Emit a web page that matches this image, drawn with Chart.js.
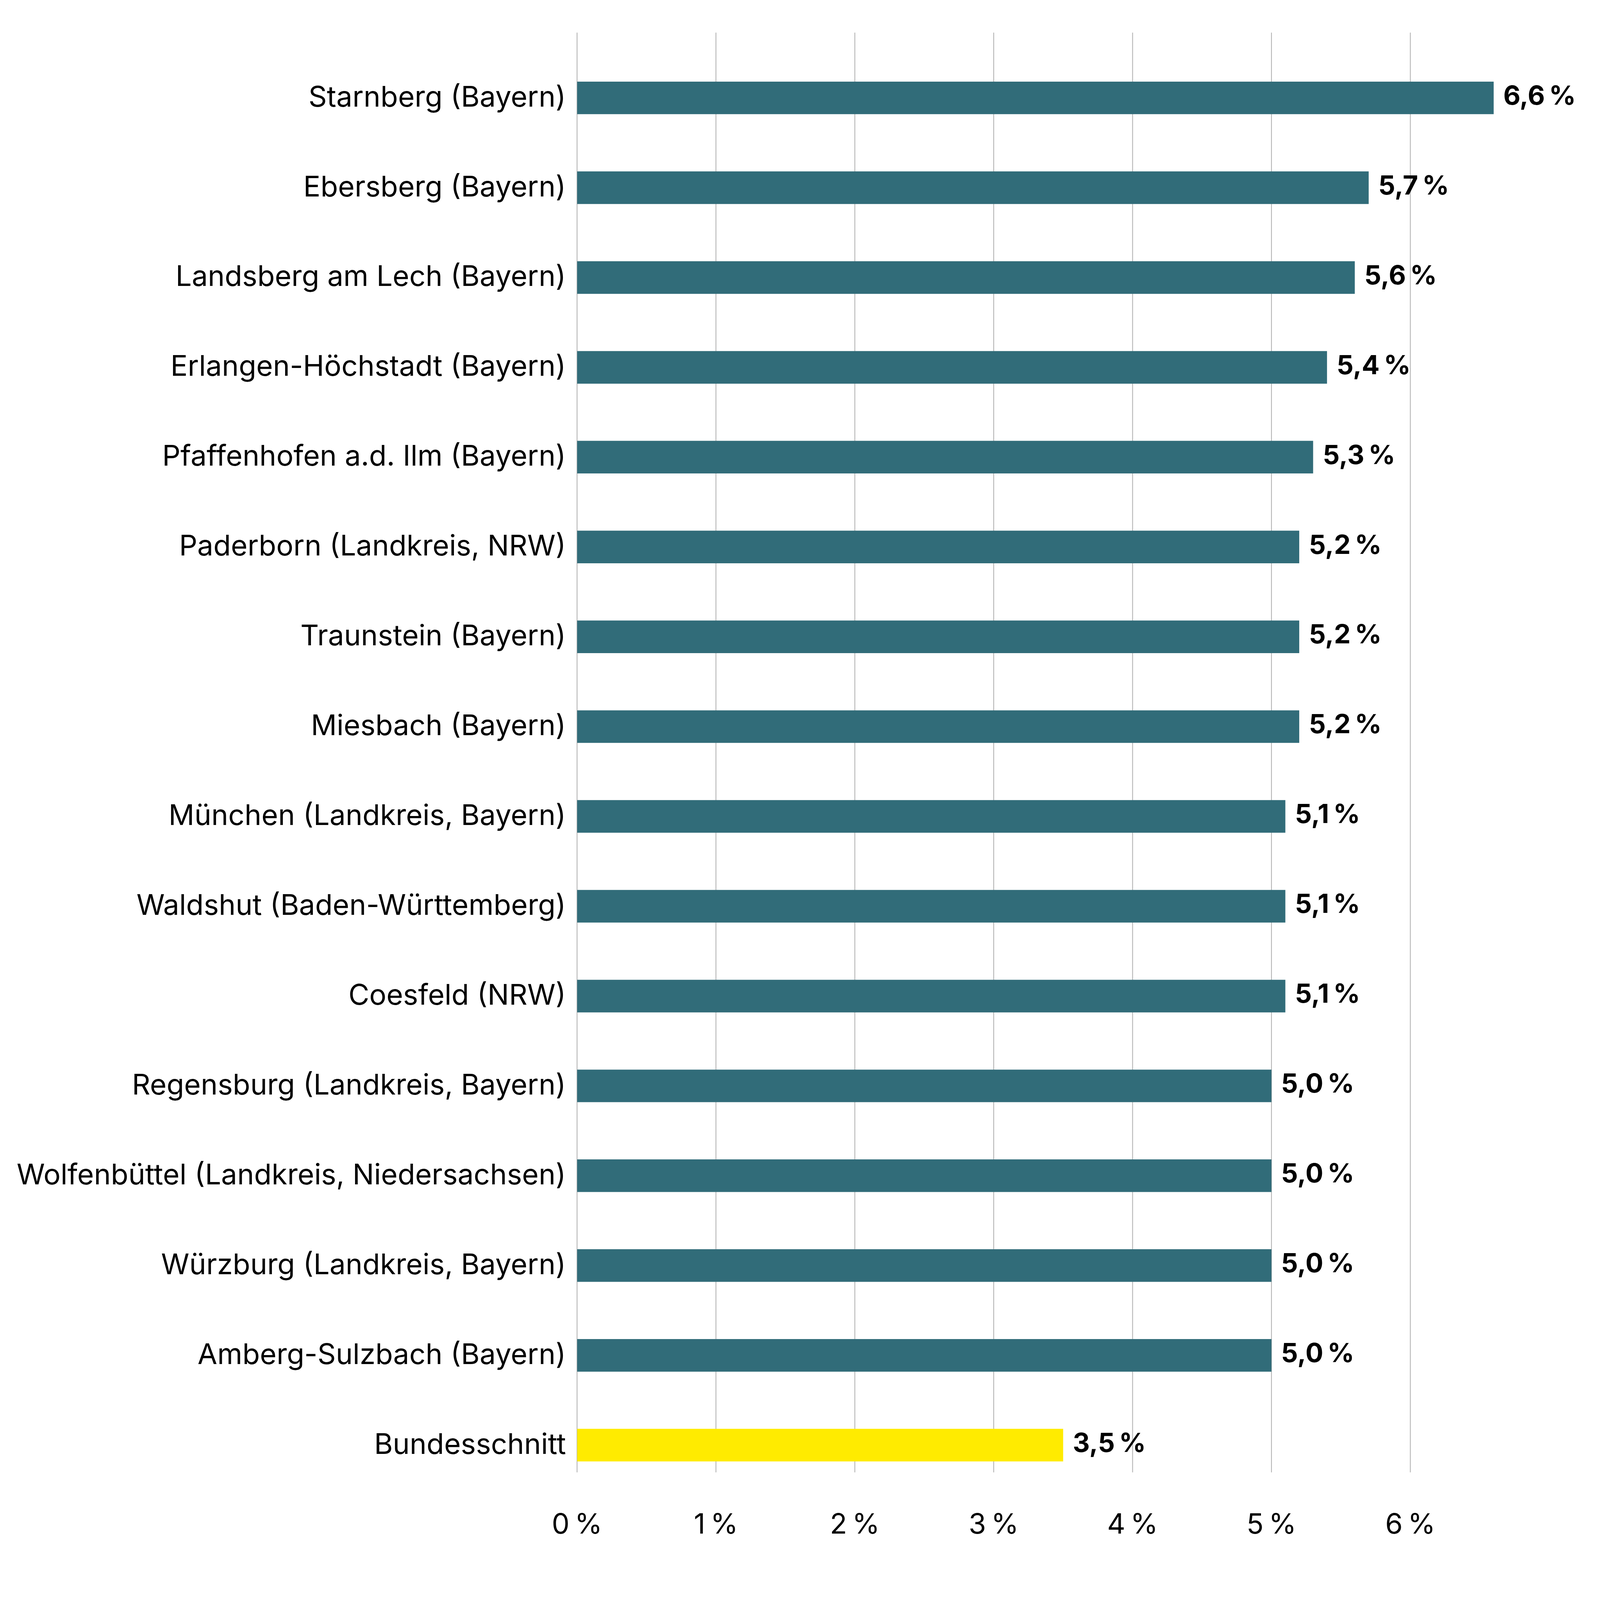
<!DOCTYPE html>
<html>
<head>
<meta charset="utf-8">
<script src="https://cdn.jsdelivr.net/npm/chart.js@4.4.1/dist/chart.umd.min.js"></script>
<style>
  html, body { margin: 0; padding: 0; background: #fff; overflow: hidden; }
  #wrap { position: absolute; left: 0; top: 0; width: 100vw; height: 100vh; }
  canvas { display: block; }
</style>
</head>
<body>
<div id="wrap"><canvas id="chart"></canvas></div>
<script>
const regions = [
    'Starnberg (Bayern)',
    'Ebersberg (Bayern)',
    'Landsberg am Lech (Bayern)',
    'Erlangen-Höchstadt (Bayern)',
    'Pfaffenhofen a.d. Ilm (Bayern)',
    'Paderborn (Landkreis, NRW)',
    'Traunstein (Bayern)',
    'Miesbach (Bayern)',
    'München (Landkreis, Bayern)',
    'Waldshut (Baden-Württemberg)',
    'Coesfeld (NRW)',
    'Regensburg (Landkreis, Bayern)',
    'Wolfenbüttel (Landkreis, Niedersachsen)',
    'Würzburg (Landkreis, Bayern)',
    'Amberg-Sulzbach (Bayern)',
    'Bundesschnitt'
];
const shares = [6.6, 5.7, 5.6, 5.4, 5.3, 5.2, 5.2, 5.2, 5.1, 5.1, 5.1, 5.0, 5.0, 5.0, 5.0, 3.5];
const xTickValues = [0, 1, 2, 3, 4, 5, 6];
const averageLabel = 'Bundesschnitt';

const TEAL = '#316c79';
const YELLOW = '#ffeb00';
const FONT = 'Inter, "Open Sans", sans-serif';

// the layout was measured on a 7500x5254 picture; scale it to the real window
const SX = window.innerWidth / 7500;
const SY = window.innerHeight / 5254;
const hx = v => v * SX;
const vy = v => v * SY;

const fmt = v => v.toFixed(1).replace('.', ',') + '\u202F%';

// vertical grid lines reach a bit above the first bar and stop above the last band's end
const gridLines = {
    id: 'gridLines',
    beforeDatasetsDraw(chart) {
        const { ctx, chartArea, scales: { x } } = chart;
        ctx.save();
        ctx.strokeStyle = '#b4b4b4';
        ctx.lineWidth = hx(4);
        x.ticks.forEach(t => {
            const gx = x.getPixelForValue(t.value);
            ctx.beginPath();
            ctx.moveTo(gx, chartArea.top - vy(67));
            ctx.lineTo(gx, chartArea.bottom - vy(58));
            ctx.stroke();
        });
        ctx.restore();
    }
};

const valueLabels = {
    id: 'valueLabels',
    afterDatasetsDraw(chart) {
        const { ctx } = chart;
        const meta = chart.getDatasetMeta(0);
        ctx.save();
        ctx.fillStyle = '#000';
        ctx.font = 'bold ' + hx(124) + 'px ' + FONT;
        ctx.textAlign = 'left';
        ctx.textBaseline = 'middle';
        meta.data.forEach((bar, i) => {
            ctx.fillText(fmt(shares[i]), bar.x + hx(45), bar.y - vy(4));
        });
        ctx.restore();
    }
};

new Chart(document.getElementById('chart').getContext('2d'), {
    type: 'bar',
    data: {
        labels: regions,
        datasets: [{
            data: shares,
            backgroundColor: ctx => regions[ctx.dataIndex] === averageLabel ? YELLOW : TEAL,
            borderWidth: 0,
            barPercentage: 0.363,
            categoryPercentage: 1
        }]
    },
    options: {
        indexAxis: 'y',
        responsive: true,
        maintainAspectRatio: false,
        animation: false,
        layout: {
            padding: { left: 0, right: hx(238), top: vy(174), bottom: vy(141) }
        },
        scales: {
            x: {
                type: 'linear',
                min: 0,
                max: 7,
                afterBuildTicks: scale => {
                    scale.ticks = xTickValues.map(v => ({ value: v }));
                },
                afterFit: scale => { scale.height = vy(220); },
                grid: { display: false, drawTicks: false },
                border: { display: false },
                ticks: {
                    padding: vy(60),
                    color: '#000',
                    font: { family: FONT, size: hx(132) },
                    callback: v => v + '\u202F%'
                }
            },
            y: {
                afterFit: scale => { scale.width = hx(2705); },
                grid: { display: false, drawTicks: false },
                border: { display: false },
                ticks: {
                    padding: hx(52),
                    autoSkip: false,
                    color: '#000',
                    font: { family: FONT, size: hx(134) }
                }
            }
        },
        plugins: {
            legend: { display: false },
            tooltip: { enabled: false }
        }
    },
    plugins: [gridLines, valueLabels]
});
</script>
</body>
</html>
